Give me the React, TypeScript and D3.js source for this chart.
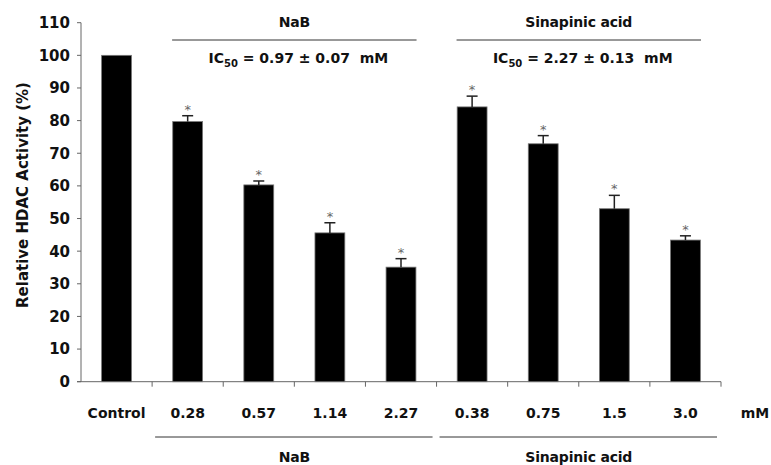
import React from "react";
import * as d3 from "d3";

const categories = ["Control", "0.28", "0.57", "1.14", "2.27", "0.38", "0.75", "1.5", "3.0"];
const values = [100, 79.7, 60.3, 45.6, 35.1, 84.2, 72.9, 53.0, 43.4];
const errors = [0, 1.8, 1.2, 3.1, 2.6, 3.3, 2.5, 4.1, 1.3];
const significant = [false, true, true, true, true, true, true, true, true];
const yTicks = [0, 10, 20, 30, 40, 50, 60, 70, 80, 90, 100, 110];
const groupNames = ["NaB", "Sinapinic acid"];
const groupStart = [1, 5];
const groupEnd = [4, 8];
const icValues = ["0.97 ± 0.07", "2.27 ± 0.13"];

const W = 771;
const H = 465;
const FONT = "'DejaVu Sans', Verdana, sans-serif";

export default function App() {
  const left = 81;
  const right = 721;
  const x = d3
    .scaleBand<string>()
    .domain(categories)
    .range([left, right])
    .paddingInner(0.58)
    .paddingOuter(0.29);
  const y = d3.scaleLinear().domain([0, 110]).range([381.7, 22.7]);
  const step = x.step();
  const bw = x.bandwidth();
  const axisColor = "#666";

  const groupLineX = (gi: number) => {
    const a = x(categories[groupStart[gi]])! - (step - bw) / 2;
    const b = x(categories[groupEnd[gi]])! + bw + (step - bw) / 2;
    return [a, b];
  };

  return (
    <svg
      width={W}
      height={H}
      style={{ position: "absolute", left: 0, top: 0, background: "#fff" }}
      fontFamily={FONT}
      fontWeight="bold"
    >
      {/* y axis */}
      <line x1={left} x2={left} y1={y(110)} y2={y(0)} stroke={axisColor} strokeWidth={1} />
      {yTicks.map((t) => (
        <g key={t}>
          <line x1={left - 4} x2={left} y1={y(t)} y2={y(t)} stroke={axisColor} />
          <text x={left - 11} y={y(t)} dy="0.36em" textAnchor="end" fontSize={15} fill="#111">
            {t}
          </text>
        </g>
      ))}
      <text
        transform={`translate(23,195) rotate(-90)`}
        textAnchor="middle"
        dy="0.36em"
        fontSize={15}
        fill="#111"
      >
        Relative HDAC Activity (%)
      </text>

      {/* x axis */}
      <line x1={left - 4} x2={right} y1={y(0)} y2={y(0)} stroke={axisColor} />
      {categories.map((c, i) => (
        <line
          key={"tk" + c}
          x1={left + (i + 1) * step}
          x2={left + (i + 1) * step}
          y1={y(0)}
          y2={y(0) + 5}
          stroke={axisColor}
        />
      ))}

      {/* bars */}
      {categories.map((c, i) => {
        const cx = x(c)! + bw / 2;
        const top = y(values[i]);
        const etop = y(values[i] + errors[i]);
        return (
          <g key={"b" + c}>
            <rect x={x(c)!} y={top} width={bw} height={y(0) - top} fill="#000" stroke="#777" strokeWidth={0.8} />
            {errors[i] > 0 && (
              <g stroke="#222" strokeWidth={1.5}>
                <line x1={cx} x2={cx} y1={top} y2={etop} />
                <line x1={cx - 5.5} x2={cx + 5.5} y1={etop} y2={etop} />
              </g>
            )}
            {significant[i] && (
              <text x={cx} y={etop - 2} textAnchor="middle" fontSize={13} fontWeight="normal" fill="#666">
                *
              </text>
            )}
            <text x={cx} y={418} textAnchor="middle" fontSize={14} fill="#111">
              {c}
            </text>
          </g>
        );
      })}
      <text x={755} y={418} textAnchor="middle" fontSize={14} fill="#111">
        mM
      </text>

      {/* group annotations */}
      {groupNames.map((g, gi) => {
        const [a, b] = groupLineX(gi);
        const cx = (a + b) / 2;
        return (
          <g key={g}>
            {/* top */}
            <text x={cx} y={27} textAnchor="middle" fontSize={14} fill="#111" letterSpacing={-0.2}>
              {g}
            </text>
            <line x1={a + 20} x2={b - 20} y1={40} y2={40} stroke="#333" />
            <text x={cx + 4} y={63} textAnchor="middle" fontSize={14} fill="#111" xmlSpace="preserve">
              IC
              <tspan fontSize={10} dy={4}>50</tspan>
              <tspan dy={-4}>{" = " + icValues[gi] + "  mM"}</tspan>
            </text>
            {/* bottom */}
            <line x1={a + 3} x2={b - 4} y1={437} y2={437} stroke="#333" />
            <text x={cx} y={462} textAnchor="middle" fontSize={14} fill="#111" letterSpacing={-0.2}>
              {g}
            </text>
          </g>
        );
      })}
    </svg>
  );
}
